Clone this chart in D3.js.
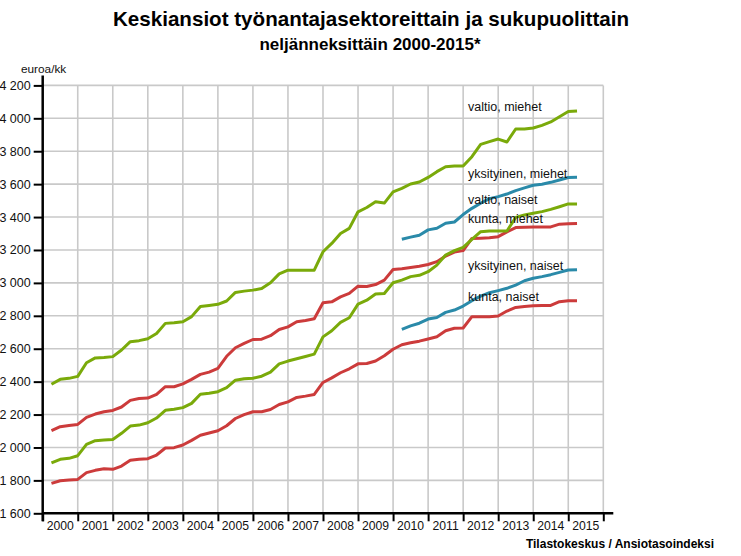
<!DOCTYPE html>
<html>
<head>
<meta charset="utf-8">
<script src="https://cdn.jsdelivr.net/npm/d3@7"></script>
<style>
  html, body { margin: 0; padding: 0; background: #fff; }
  svg { display: block; font-family: "Liberation Sans", Arial, sans-serif; }
</style>
</head>
<body>
<svg id="chart" width="741" height="556"></svg>
<script>
// ---- data ----
const years = [2000, 2001, 2002, 2003, 2004, 2005, 2006, 2007, 2008, 2009, 2010, 2011, 2012, 2013, 2014, 2015];
const yTicks = [1600, 1800, 2000, 2200, 2400, 2600, 2800, 3000, 3200, 3400, 3600, 3800, 4000, 4200];

// quarterly values 2000Q1 .. 2015Q1
const valtioMiehet = [
  2384, 2414, 2420, 2432,  2515, 2544, 2546, 2552,  2592, 2643, 2649, 2661,  2693, 2754, 2758, 2764,
  2795, 2857, 2863, 2870,  2890, 2942, 2950, 2956,  2966, 3001, 3055, 3077,  3077, 3077, 3077, 3189,
  3240, 3300, 3331, 3432,  3458, 3493, 3485, 3553,  3574, 3601, 3613, 3641,  3676, 3706, 3710, 3710,
  3767, 3842, 3858, 3874,  3856, 3935, 3935, 3941,  3957, 3978, 4010, 4041,  4045
];
const kuntaMiehet = [
  2102, 2126, 2134, 2140,  2183, 2203, 2217, 2225,  2246, 2286, 2298, 2300,  2323, 2369, 2369, 2386,
  2414, 2444, 2458, 2481,  2554, 2606, 2632, 2656,  2658, 2679, 2717, 2733,  2764, 2772, 2782, 2879,
  2885, 2915, 2936, 2980,  2978, 2990, 3017, 3081,  3086, 3093, 3101, 3112,  3129, 3163, 3187, 3196,
  3270, 3272, 3274, 3281,  3310, 3336, 3338, 3340,  3340, 3340, 3357, 3359,  3361
];
const valtioNaiset = [
  1906, 1928, 1934, 1950,  2019, 2041, 2045, 2049,  2086, 2130, 2136, 2150,  2179, 2226, 2232, 2242,
  2268, 2323, 2329, 2339,  2363, 2409, 2417, 2421,  2433, 2458, 2508, 2525,  2539, 2553, 2567, 2672,
  2709, 2760, 2788, 2871,  2895, 2932, 2936, 3001,  3017, 3038, 3046, 3068,  3108, 3169, 3196, 3216,
  3264, 3311, 3315, 3315,  3315, 3398, 3413, 3423,  3433, 3447, 3463, 3480,  3480
];
const kuntaNaiset = [
  1782, 1798, 1802, 1806,  1847, 1861, 1871, 1867,  1887, 1922, 1928, 1932,  1954, 1997, 1999, 2015,
  2043, 2074, 2088, 2102,  2132, 2176, 2200, 2217,  2217, 2231, 2261, 2277,  2304, 2312, 2322, 2395,
  2423, 2454, 2478, 2508,  2510, 2525, 2557, 2597,  2624, 2636, 2646, 2659,  2673, 2709, 2724, 2726,
  2795, 2795, 2795, 2799,  2829, 2851, 2857, 2861,  2863, 2863, 2886, 2892,  2892
];
// private sector from 2010Q1 .. 2015Q1
const yksityinenMiehet = [
  3265, 3278, 3290, 3322,  3332, 3362, 3370, 3415,  3453, 3484, 3512, 3524,  3540, 3561, 3577, 3593,
  3599, 3611, 3625, 3640,  3642
];
const yksityinenNaiset = [
  2718, 2739, 2755, 2780,  2790, 2821, 2835, 2859,  2892, 2920, 2940, 2953,  2967, 2987, 3013, 3028,
  3038, 3050, 3064, 3078,  3080
];
const seriesNames = ["kunta, miehet", "kunta, naiset", "valtio, miehet", "valtio, naiset", "yksityinen, miehet", "yksityinen, naiset"];
const seriesValues = [kuntaMiehet, kuntaNaiset, valtioMiehet, valtioNaiset, yksityinenMiehet, yksityinenNaiset];
const seriesStart = [2000, 2000, 2000, 2000, 2010, 2010];

// ---- styles / layout ----
const colors = {
  "kunta": "#cc3b3b",
  "valtio": "#7aaa0a",
  "yksityinen": "#2a8aa9"
};
const labelY = {
  "valtio, miehet": 111,
  "yksityinen, miehet": 178,
  "valtio, naiset": 204,
  "kunta, miehet": 223,
  "yksityinen, naiset": 270,
  "kunta, naiset": 301
};

const svg = d3.select("#chart");
const pLeft = 42.7, pRight = 603.3, pTop = 85.4, pBottom = 513.3;

const x = d3.scaleLinear().domain([2000, 2016]).range([pLeft, pRight]);
const y = d3.scaleLinear().domain([1600, 4200]).range([pBottom, pTop]);

// quarter position: end of quarter
const qx = (startYear, i) => x(startYear + (i + 1) / 4);

// grid
const grid = svg.append("g");
grid.selectAll("line.h").data(yTicks.slice(1)).join("line")
  .attr("x1", pLeft).attr("x2", pRight)
  .attr("y1", d => y(d)).attr("y2", d => y(d))
  .attr("stroke", "#c9c9c9").attr("stroke-width", 1.6);
grid.selectAll("line.v").data(years.map(d => d + 1)).join("line")
  .attr("x1", d => x(d)).attr("x2", d => x(d))
  .attr("y1", pTop).attr("y2", pBottom)
  .attr("stroke", "#c9c9c9").attr("stroke-width", 1.6);

// lines
const line = d3.line().x(d => d[0]).y(d => d[1]);
seriesNames.forEach((name, k) => {
  const vals = seriesValues[k];
  const pts = vals.map((v, i) => [qx(seriesStart[k], i), y(v)]);
  svg.append("path")
    .attr("d", line(pts))
    .attr("fill", "none")
    .attr("stroke", colors[name.split(",")[0]])
    .attr("stroke-width", 3)
    .attr("stroke-linejoin", "round");
});

// axes
const yAxis = d3.axisLeft(y).tickValues(yTicks).tickSize(9).tickPadding(3)
  .tickFormat(d => d3.format(",")(d).replace(",", " "));
const gy = svg.append("g").attr("transform", `translate(${pLeft},0)`).call(yAxis);
gy.select(".domain").attr("d", `M0,${pTop - 10}V${pBottom + 8}`).attr("stroke", "#000").attr("stroke-width", 2.5);
gy.selectAll(".tick line").attr("stroke", "#000").attr("stroke-width", 2);
gy.selectAll(".tick text").attr("font-size", 12.5).attr("fill", "#111").attr("font-family", "Liberation Sans, Arial, sans-serif");

const xAxis = d3.axisBottom(x).tickValues(years.concat([2016])).tickSize(8).tickFormat("");
const gx = svg.append("g").attr("transform", `translate(0,${pBottom})`).call(xAxis);
gx.select(".domain").attr("d", `M${pLeft},0H${pRight + 10}`).attr("stroke", "#000").attr("stroke-width", 2.5);
gx.selectAll(".tick line").attr("stroke", "#000").attr("stroke-width", 2);
gx.selectAll("text.yl").data(years).join("text")
  .attr("class", "yl")
  .attr("x", d => x(d + 0.5)).attr("y", 17)
  .attr("text-anchor", "middle")
  .attr("font-size", 12.2).attr("fill", "#111")
  .text(d => d);

// series labels
seriesNames.forEach(name => {
  svg.append("text")
    .attr("x", 468).attr("y", labelY[name])
    .attr("font-size", 12.5).attr("fill", "#111")
    .text(name);
});

// titles
svg.append("text").attr("x", 371).attr("y", 26).attr("text-anchor", "middle")
  .attr("font-size", 20.6).attr("font-weight", "bold").attr("fill", "#000")
  .text("Keskiansiot työnantajasektoreittain ja sukupuolittain");
svg.append("text").attr("x", 370).attr("y", 50).attr("text-anchor", "middle")
  .attr("font-size", 17).attr("font-weight", "bold").attr("fill", "#000")
  .text("neljänneksittäin 2000-2015*");
svg.append("text").attr("x", 21).attr("y", 73)
  .attr("font-size", 11.8).attr("fill", "#111")
  .text("euroa/kk");
svg.append("text").attr("x", 714).attr("y", 548).attr("text-anchor", "end")
  .attr("font-size", 12).attr("font-weight", "bold").attr("fill", "#000")
  .text("Tilastokeskus / Ansiotasoindeksi");
</script>
</body>
</html>
